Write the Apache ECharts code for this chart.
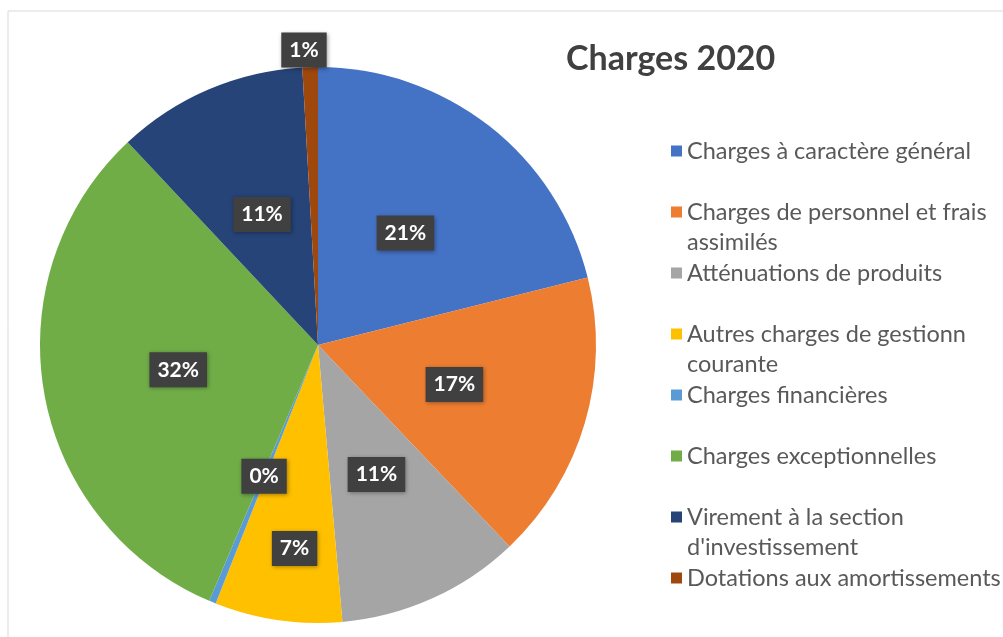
<!DOCTYPE html>
<html><head><meta charset="utf-8">
<script src="https://cdn.jsdelivr.net/npm/echarts@6/dist/echarts.min.js"></script>
<style>html,body{margin:0;padding:0;background:#fff}#c{width:1003px;height:637px}</style>
</head><body><div id="c"></div>
<script>
const categories = ['Charges à caractère général','Charges de personnel et frais assimilés','Atténuations de produits','Autres charges de gestionn courante','Charges financières','Charges exceptionnelles',"Virement à la section d'investissement",'Dotations aux amortissements'];
const legendLabels = ['Charges à caractère général','Charges de personnel et frais\nassimilés','Atténuations de produits','Autres charges de gestionn\ncourante','Charges financières','Charges exceptionnelles',"Virement à la section\nd'investissement",'Dotations aux amortissements'];
const shares = [21.1, 16.8, 10.7, 7.4, 0.4, 31.6, 11.1, 0.9];
const colors = ['#4472C4','#ED7D31','#A5A5A5','#FFC000','#5B9BD5','#70AD47','#264478','#9E480E'];
const titleText = 'Charges 2020';
const labelShift = {3: [-3, 63], 7: [-10, -153]};

const chart = echarts.init(document.getElementById('c'), null, {renderer: 'canvas'});

const legends = categories.map((name, i) => {
  const two = legendLabels[i].indexOf('\n') >= 0;
  return {
    orient: 'vertical', left: 671, top: 136 + 61 * i, padding: 0,
    itemWidth: 11, itemHeight: two ? 41 : 11,
    icon: two ? 'path://M0,0h11v11h-11zM0,40.99h11v0.01h-11z' : 'rect',
    selectedMode: false,
    data: [name],
    formatter: n => legendLabels[categories.indexOf(n)],
    textStyle: {fontFamily: 'Lato', fontSize: 23.5, color: '#595959', lineHeight: 30}
  };
});

chart.setOption({
  animation: false,
  backgroundColor: '#fff',
  graphic: [{type: 'rect', shape: {x: 8, y: 11, width: 1100, height: 700}, style: {fill: 'none', stroke: '#d9d9d9', lineWidth: 1}, silent: true}],
  title: {text: titleText, left: 566, top: 42, padding: 0,
    textStyle: {fontFamily: 'Lato', fontWeight: 'bold', fontSize: 34, color: '#404040'}},
  legend: legends,
  series: [{
    type: 'pie', center: [318, 345], radius: 278, startAngle: 90, clockwise: true,
    silent: true, emphasis: {disabled: true},
    data: categories.map((n, i) => ({name: n, value: shares[i], itemStyle: {color: colors[i]}})),
    label: {show: true, position: 'inside', formatter: p => Math.round(p.percent) + '%',
      color: '#fff', fontFamily: 'Lato', fontWeight: 'bold', fontSize: 21, lineHeight: 22,
      backgroundColor: '#404040', padding: [7, 8, 6, 8],
      shadowBlur: 4, shadowColor: 'rgba(0,0,0,0.35)', shadowOffsetX: 1, shadowOffsetY: 1},
    labelLine: {show: false},
    labelLayout: p => { const s = labelShift[p.dataIndex]; return s ? {dx: s[0], dy: s[1]} : {}; }
  }]
});
</script></body></html>
